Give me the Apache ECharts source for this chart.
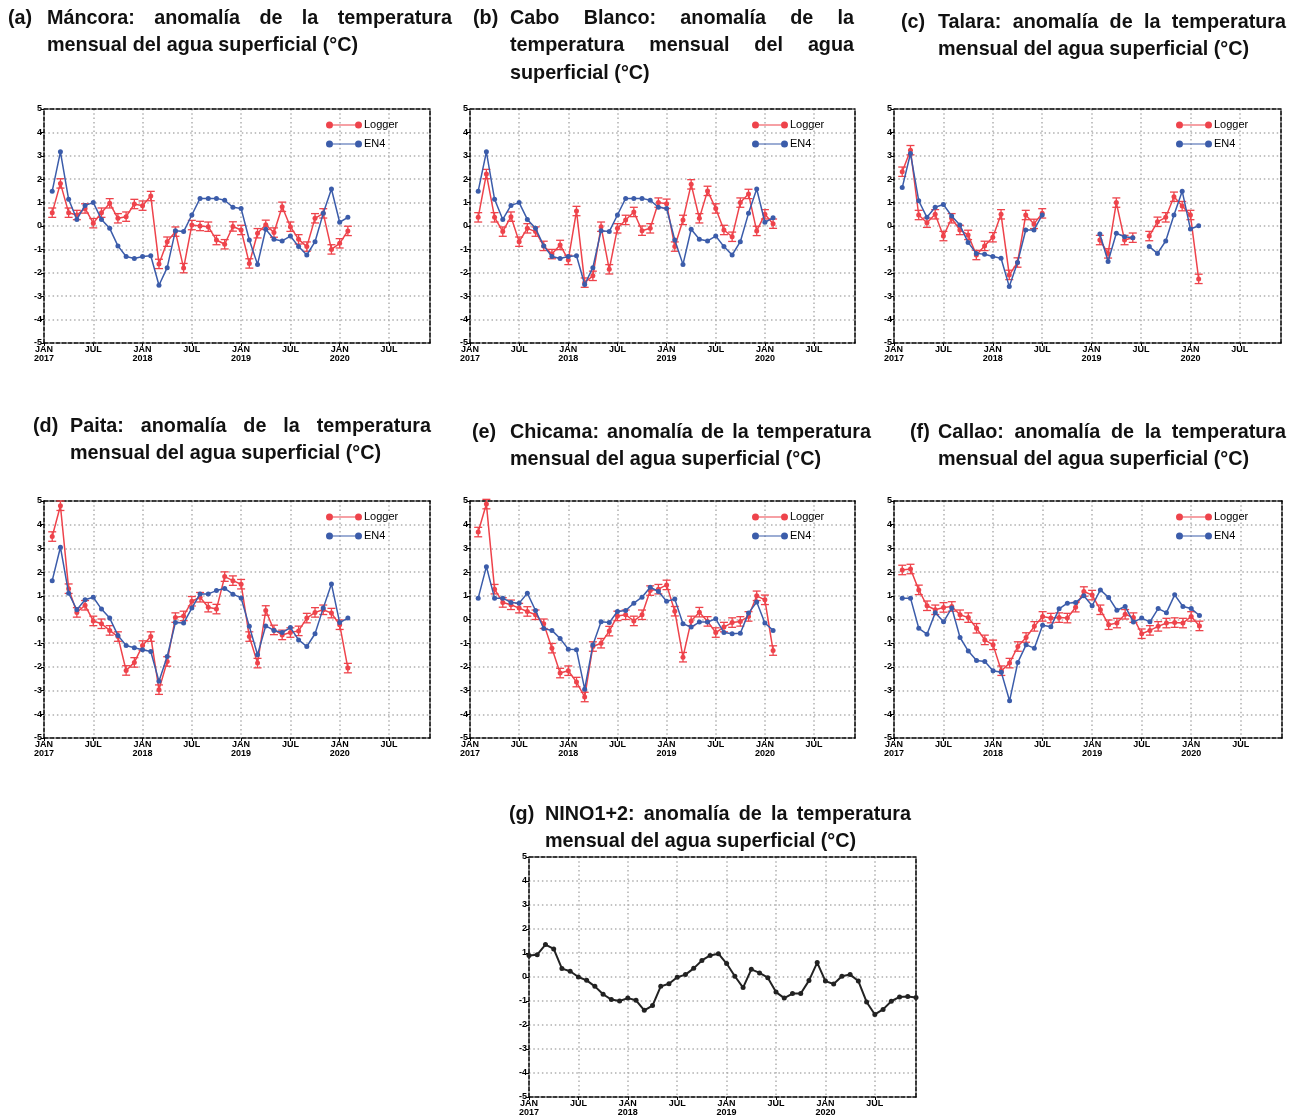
<!DOCTYPE html>
<html>
<head>
<meta charset="utf-8">
<script src="https://cdn.jsdelivr.net/npm/echarts@6/dist/echarts.min.js"></script>
<style>
  html, body { margin: 0; padding: 0; background: #fff; }
  #chart { width: 1297px; height: 1120px; }
</style>
</head>
<body>
<div id="chart"></div>
<script>
// ---- Time axis: months counted from JAN 2017 (= 0) ----
const monthTicks = [0, 6, 12, 18, 24, 30, 36, 42];
const monthTickLabels = ['JAN\n2017', 'JUL', 'JAN\n2018', 'JUL', 'JAN\n2019', 'JUL', 'JAN\n2020', 'JUL'];
const stationFirstMonth = 1;   // station series start in FEB 2017
const nino12FirstMonth = 0;    // NINO1+2 index starts in JAN 2017
const loggerErrorHalfWidth = 0.2; // ± half-width of the logger error bars (°C)

// ---- Monthly SST anomalies (°C) ----
const mancoraLogger = [0.57, 1.82, 0.57, 0.47, 0.75, 0.12, 0.57, 0.97, 0.33, 0.40, 0.94, 0.87, 1.28, -1.62, -0.67, -0.24, -1.80, 0.04, 0.00, -0.03, -0.60, -0.78, -0.02, -0.17, -1.60, -0.31, 0.05, -0.28, 0.82, -0.03, -0.57, -0.88, 0.33, 0.54, -1.00, -0.74, -0.21];
const mancoraEN4 = [1.49, 3.17, 1.14, 0.28, 0.88, 1.00, 0.28, -0.10, -0.85, -1.30, -1.39, -1.30, -1.27, -2.53, -1.78, -0.20, -0.24, 0.47, 1.18, 1.18, 1.18, 1.10, 0.80, 0.75, -0.60, -1.64, -0.14, -0.57, -0.64, -0.43, -0.88, -1.24, -0.67, 0.54, 1.58, 0.16, 0.37];

const caboBlancoLogger = [0.37, 2.22, 0.37, -0.24, 0.40, -0.67, -0.10, -0.24, -0.85, -1.20, -0.81, -1.45, 0.64, -2.42, -2.13, -0.03, -1.85, -0.10, 0.26, 0.60, -0.20, -0.10, 1.00, 0.95, -0.88, 0.26, 1.78, 0.33, 1.50, 0.75, -0.17, -0.46, 1.00, 1.37, -0.21, 0.50, 0.10];
const caboBlancoEN4 = [1.49, 3.17, 1.14, 0.28, 0.88, 1.00, 0.28, -0.10, -0.85, -1.30, -1.39, -1.30, -1.27, -2.50, -1.78, -0.20, -0.24, 0.47, 1.18, 1.18, 1.18, 1.10, 0.80, 0.75, -0.60, -1.64, -0.14, -0.57, -0.64, -0.43, -0.88, -1.24, -0.67, 0.54, 1.58, 0.16, 0.35];

const talaraLogger = [2.32, 3.24, 0.47, 0.14, 0.50, -0.43, 0.33, -0.17, -0.38, -1.24, -0.85, -0.48, 0.50, -2.09, -1.56, 0.47, 0.09, 0.54,
  null, null, null, null, null, null,
  -0.60, -1.17, 1.00, -0.60, -0.50,
  null,
  -0.43, 0.18, 0.37, 1.25, 0.85, 0.47, -2.26];
const talaraEN4 = [1.64, 3.10, 1.08, 0.37, 0.80, 0.92, 0.43, 0.04, -0.70, -1.17, -1.21, -1.30, -1.38, -2.59, -1.56, -0.17, -0.17, 0.47,
  null, null, null, null, null, null,
  -0.34, -1.52, -0.31, -0.46, -0.50,
  null,
  -0.88, -1.17, -0.64, 0.47, 1.49, -0.13, 0.01];

const paitaLogger = [3.50, 4.80, 1.30, 0.30, 0.60, -0.06, -0.18, -0.46, -0.72, -2.15, -1.81, -1.10, -0.72, -2.96, -1.77, 0.08, 0.15, 0.77, 0.94, 0.52, 0.44, 1.81, 1.64, 1.49, -0.72, -1.84, 0.38, -0.44, -0.65, -0.55, -0.48, 0.06, 0.30, 0.41, 0.27, -0.22, -2.05];
const paitaEN4 = [1.64, 3.05, 1.11, 0.41, 0.83, 0.94, 0.44, 0.06, -0.67, -1.10, -1.19, -1.28, -1.35, -2.61, -1.56, -0.13, -0.15, 0.48, 1.08, 1.08, 1.22, 1.31, 1.07, 0.91, -0.29, -1.49, -0.27, -0.46, -0.55, -0.34, -0.86, -1.14, -0.60, 0.48, 1.50, -0.13, 0.06];

const chicamaLogger = [3.69, 4.87, 1.28, 0.72, 0.62, 0.48, 0.34, 0.20, -0.18, -1.21, -2.26, -2.16, -2.64, -3.27, -1.14, -1.00, -0.49, 0.15, 0.20, -0.06, 0.20, 1.22, 1.28, 1.46, 0.35, -1.59, -0.06, 0.31, -0.08, -0.55, -0.32, -0.13, -0.08, 0.13, 1.00, 0.83, -1.31];
const chicamaEN4 = [0.90, 2.23, 0.90, 0.90, 0.72, 0.69, 1.11, 0.38, -0.38, -0.46, -0.80, -1.25, -1.28, -2.94, -1.08, -0.10, -0.13, 0.34, 0.38, 0.69, 0.94, 1.36, 1.18, 0.77, 0.86, -0.18, -0.32, -0.11, -0.11, 0.03, -0.55, -0.60, -0.58, 0.27, 0.74, -0.15, -0.46];

const callaoLogger = [2.09, 2.13, 1.25, 0.58, 0.41, 0.51, 0.55, 0.20, 0.08, -0.37, -0.86, -1.07, -2.16, -1.84, -1.14, -0.76, -0.29, 0.13, 0.06, 0.08, 0.06, 0.52, 1.18, 1.03, 0.41, -0.22, -0.15, 0.22, 0.08, -0.60, -0.46, -0.29, -0.15, -0.13, -0.15, 0.13, -0.27];
const callaoEN4 = [0.90, 0.90, -0.37, -0.62, 0.29, -0.10, 0.49, -0.76, -1.33, -1.73, -1.77, -2.16, -2.23, -3.43, -1.81, -1.07, -1.21, -0.24, -0.31, 0.45, 0.69, 0.72, 1.00, 0.58, 1.25, 0.93, 0.39, 0.55, -0.11, 0.06, -0.10, 0.46, 0.29, 1.04, 0.55, 0.46, 0.17];

const nino12 = [0.90, 0.93, 1.35, 1.17, 0.35, 0.24, 0.00, -0.14, -0.39, -0.72, -0.94, -1.00, -0.88, -0.97, -1.39, -1.19, -0.39, -0.28, -0.01, 0.10, 0.36, 0.69, 0.90, 0.97, 0.56, 0.03, -0.44, 0.32, 0.17, -0.03, -0.63, -0.88, -0.69, -0.69, -0.15, 0.60, -0.17, -0.29, 0.03, 0.10, -0.17, -1.04, -1.56, -1.35, -1.01, -0.83, -0.81, -0.85];

// ---- Panel titles ----
const TITLE_A = ['Máncora: anomalía de la temperatura', 'mensual del agua superficial (°C)'];
const TITLE_B = ['Cabo Blanco: anomalía de la', 'temperatura mensual del agua', 'superficial (°C)'];
const TITLE_C = ['Talara: anomalía de la temperatura', 'mensual del agua superficial (°C)'];
const TITLE_D = ['Paita: anomalía de la temperatura', 'mensual del agua superficial (°C)'];
const TITLE_E = ['Chicama: anomalía de la temperatura', 'mensual del agua superficial (°C)'];
const TITLE_F = ['Callao: anomalía de la temperatura', 'mensual del agua superficial (°C)'];
const TITLE_G = ['NINO1+2: anomalía de la temperatura', 'mensual del agua superficial (°C)'];

// ---- Styling ----
const RED = '#ee434b';
const BLUE = '#3b5caa';
const BLACK = '#222222';
const GRID_DOT = '#b0b0b0';
const TITLE_FAMILY = '"Liberation Sans", Arial, sans-serif';
const TITLE_SIZE = 21;
const TITLE_SUBLINE_WIDTH = 311;   // set width of "mensual del agua superficial (°C)" in px
const TICK_FONT = '"Liberation Sans", Arial, sans-serif';
const LINE_STEP = 27.5;

// Layout of each panel: plot box [left, top, width, height] and title placement
const panels = [
  { tag: '(a)', title: TITLE_A, justify: [true, false], tagX: 8, bodyX: 47, bodyR: 452, titleY: 18,
    box: [44, 109, 386, 234], logger: mancoraLogger, en4: mancoraEN4 },
  { tag: '(b)', title: TITLE_B, justify: [true, true, false], tagX: 473, bodyX: 510, bodyR: 854, titleY: 18,
    box: [470, 109, 385, 234], logger: caboBlancoLogger, en4: caboBlancoEN4 },
  { tag: '(c)', title: TITLE_C, justify: [true, false], tagX: 901, bodyX: 938, bodyR: 1286, titleY: 22,
    box: [894, 109, 387, 234], logger: talaraLogger, en4: talaraEN4 },
  { tag: '(d)', title: TITLE_D, justify: [true, false], tagX: 33, bodyX: 70, bodyR: 431, titleY: 426,
    box: [44, 501, 386, 237], logger: paitaLogger, en4: paitaEN4 },
  { tag: '(e)', title: TITLE_E, justify: [true, false], tagX: 472, bodyX: 510, bodyR: 871, titleY: 432,
    box: [470, 501, 385, 237], logger: chicamaLogger, en4: chicamaEN4 },
  { tag: '(f)', title: TITLE_F, justify: [true, false], tagX: 910, bodyX: 938, bodyR: 1286, titleY: 432,
    box: [894, 501, 388, 237], logger: callaoLogger, en4: callaoEN4 },
  { tag: '(g)', title: TITLE_G, justify: [true, false], tagX: 509, bodyX: 545, bodyR: 911, titleY: 814,
    box: [529, 857, 387, 240], index: nino12 }
];

// ---- Helpers ----
// Condensed bold face: Liberation Sans Bold squeezed horizontally
const measureCtx = document.createElement('canvas').getContext('2d');
measureCtx.font = 'bold ' + TITLE_SIZE + 'px ' + TITLE_FAMILY;
const TITLE_SCALE_X = TITLE_SUBLINE_WIDTH / measureCtx.measureText('mensual del agua superficial (°C)').width;
function textWidth(t) { return measureCtx.measureText(t).width * TITLE_SCALE_X; }

function titleText(text, x, y) {
  return { type: 'text', x: x, y: y, scaleX: TITLE_SCALE_X, silent: true,
    style: { text: text, fontSize: TITLE_SIZE, fontWeight: 'bold', fontFamily: TITLE_FAMILY,
      fill: '#111', align: 'left', verticalAlign: 'middle' } };
}

function titleElements(p) {
  const els = [titleText(p.tag, p.tagX, p.titleY)];
  p.title.forEach((line, i) => {
    const y = p.titleY + i * LINE_STEP;
    if (!p.justify[i]) { els.push(titleText(line, p.bodyX, y)); return; }
    const words = line.split(' ');
    const widths = words.map(textWidth);
    const total = widths.reduce((s, w) => s + w, 0);
    const gap = (p.bodyR - p.bodyX - total) / (words.length - 1);
    let x = p.bodyX;
    words.forEach((w, j) => { els.push(titleText(w, x, y)); x += widths[j] + gap; });
  });
  return els;
}

function toPoints(values, firstMonth) {
  return values.map((v, i) => [firstMonth + i, v == null ? '-' : v]);
}

function monthLabel(v) {
  const k = monthTicks.indexOf(v);
  return k >= 0 ? monthTickLabels[k] : '';
}

const frameLine = { show: true, onZero: false, lineStyle: { color: '#000', width: 1.5, type: [4, 2] } };
const dotted = { show: true, lineStyle: { color: GRID_DOT, width: 1.5, type: [1.5, 2.8] } };
const tickLabel = { fontSize: 9, fontWeight: 'bold', color: '#000', fontFamily: TICK_FONT };

const legendIcon = 'path://M7,2.9H29V4.1H7Z M0,3.5A3.5,3.5 0 1 1 7,3.5A3.5,3.5 0 1 1 0,3.5Z M29,3.5A3.5,3.5 0 1 1 36,3.5A3.5,3.5 0 1 1 29,3.5Z';

const grids = [], xAxes = [], yAxes = [], series = [], legends = [], graphics = [];
const n = panels.length;

panels.forEach((p, k) => {
  const [left, top, width, height] = p.box;
  grids.push({ left: left, top: top, width: width, height: height, containLabel: false });

  xAxes[k] = {
    gridIndex: k, type: 'value', min: 0, max: 47, interval: 6, position: 'bottom',
    axisLine: frameLine,
    axisTick: { show: true, length: 3, lineStyle: { color: '#000', width: 1 } },
    axisLabel: Object.assign({ formatter: monthLabel, lineHeight: 9, margin: 2, showMaxLabel: false }, tickLabel),
    splitLine: dotted
  };
  yAxes[k] = {
    gridIndex: k, type: 'value', min: -5, max: 5, interval: 1, position: 'left',
    axisLine: frameLine,
    axisTick: { show: true, length: 3, lineStyle: { color: '#000', width: 1 } },
    axisLabel: Object.assign({ margin: 2 }, tickLabel),
    splitLine: dotted
  };
  // top and right edges of the dashed frame
  xAxes[n + k] = { gridIndex: k, type: 'value', min: 0, max: 47, position: 'top',
    axisLine: frameLine, axisTick: { show: false }, axisLabel: { show: false }, splitLine: { show: false } };
  yAxes[n + k] = { gridIndex: k, type: 'value', min: -5, max: 5, position: 'right',
    axisLine: frameLine, axisTick: { show: false }, axisLabel: { show: false }, splitLine: { show: false } };

  graphics.push(...titleElements(p));

  if (p.index) {
    series.push({
      type: 'line', name: 'NINO1+2', xAxisIndex: k, yAxisIndex: k,
      data: toPoints(p.index, nino12FirstMonth),
      symbol: 'circle', symbolSize: 5, showAllSymbol: true,
      itemStyle: { color: BLACK }, lineStyle: { color: BLACK, width: 2 },
      animation: false, z: 3
    });
    return;
  }

  // logger error bars
  const errData = p.logger
    .map((v, i) => v == null ? null : [stationFirstMonth + i, v - loggerErrorHalfWidth, v + loggerErrorHalfWidth])
    .filter(d => d);
  series.push({
    type: 'custom', xAxisIndex: k, yAxisIndex: k, data: errData, animation: false, z: 2,
    encode: { x: 0, y: [1, 2] },
    renderItem: function (params, api) {
      const lo = api.coord([api.value(0), api.value(1)]);
      const hi = api.coord([api.value(0), api.value(2)]);
      const w = 4;
      const st = { stroke: RED, lineWidth: 1.3 };
      return { type: 'group', children: [
        { type: 'line', shape: { x1: lo[0], y1: lo[1], x2: hi[0], y2: hi[1] }, style: st },
        { type: 'line', shape: { x1: lo[0] - w, y1: lo[1], x2: lo[0] + w, y2: lo[1] }, style: st },
        { type: 'line', shape: { x1: hi[0] - w, y1: hi[1], x2: hi[0] + w, y2: hi[1] }, style: st }
      ] };
    }
  });
  series.push({
    type: 'line', name: 'Logger', xAxisIndex: k, yAxisIndex: k,
    data: toPoints(p.logger, stationFirstMonth), connectNulls: false,
    symbol: 'circle', symbolSize: 5, showAllSymbol: true,
    itemStyle: { color: RED }, lineStyle: { color: RED, width: 1.5 },
    animation: false, z: 3
  });
  series.push({
    type: 'line', name: 'EN4', xAxisIndex: k, yAxisIndex: k,
    data: toPoints(p.en4, stationFirstMonth), connectNulls: false,
    symbol: 'circle', symbolSize: 5, showAllSymbol: true,
    itemStyle: { color: BLUE }, lineStyle: { color: BLUE, width: 1.5 },
    animation: false, z: 4
  });
  legends.push({
    left: left + 277, top: top + 4, orient: 'vertical', itemGap: 5,
    itemWidth: 36, itemHeight: 7, selectedMode: false,
    textStyle: { fontSize: 11, color: '#000', fontFamily: TICK_FONT, padding: [0, 0, 0, -3], lineHeight: 14 },
    data: [
      { name: 'Logger', icon: legendIcon, itemStyle: { color: RED } },
      { name: 'EN4', icon: legendIcon, itemStyle: { color: BLUE } }
    ]
  });
});

const chart = echarts.init(document.getElementById('chart'), null, { renderer: 'canvas' });
chart.setOption({
  backgroundColor: '#fff',
  animation: false,
  grid: grids,
  xAxis: xAxes,
  yAxis: yAxes,
  legend: legends,
  series: series,
  graphic: graphics
});
</script>
</body>
</html>
